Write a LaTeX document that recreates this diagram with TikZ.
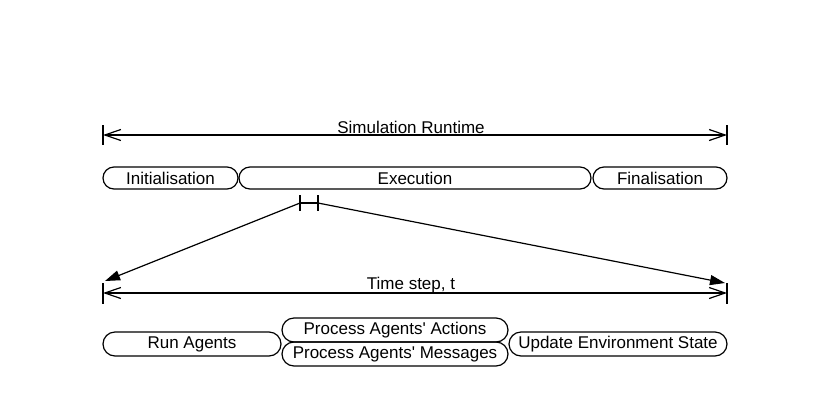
\documentclass[tikz,border=0pt]{standalone}
\usepackage{fontspec}
\setmainfont{Liberation Sans}
\usetikzlibrary{arrows.meta}
\begin{document}
\begin{tikzpicture}[x=1pt,y=-1pt,
  phase/.style={draw, line width=1.2pt, rounded corners=11pt, inner sep=0pt, minimum height=22pt, font=\fontsize{17}{20}\selectfont},
  subphase/.style={phase, minimum height=24pt, rounded corners=12pt},
  label/.style={inner sep=0pt, font=\fontsize{17}{20}\selectfont},
  span/.style={line width=1.2pt, {Straight Barb[length=16pt,width=11pt,line width=1.2pt]}-{Straight Barb[length=16pt,width=11pt,line width=1.2pt]}},
  bar/.style={line width=1.2pt},
  zoomline/.style={line width=1.2pt, -{Triangle[length=15pt,width=10pt]}}
]
\useasboundingbox (0,0) rectangle (832,400);

% top range
\coordinate (t1a) at (103,125); \coordinate (t1b) at (103,145);
\coordinate (t2a) at (727,125); \coordinate (t2b) at (727,145);
\coordinate (tl) at (103,135); \coordinate (tr) at (727,135);
\draw[bar] (t1a) -- (t1b);
\draw[bar] (t2a) -- (t2b);
\draw[span] (tl) -- (tr);
\node[label] (simlabel) at (411,127) {Simulation Runtime};

% phases
\node[phase, minimum width=135pt] (init) at (170.5,178) {Initialisation};
\node[phase, minimum width=352pt] (exec) at (415,178) {Execution};
\node[phase, minimum width=134pt] (final) at (660,178) {Finalisation};

% H bracket
\coordinate (h1a) at (300,195); \coordinate (h1b) at (300,211);
\coordinate (h2a) at (318,195); \coordinate (h2b) at (318,211);
\coordinate (hl) at (300,203); \coordinate (hr) at (318,203);
\draw[bar] (h1a) -- (h1b);
\draw[bar] (h2a) -- (h2b);
\draw[bar] (hl) -- (hr);

% bottom range
\coordinate (b1a) at (103,283); \coordinate (b1b) at (103,304);
\coordinate (b2a) at (727,283); \coordinate (b2b) at (727,304);
\coordinate (bl) at (103,293); \coordinate (br) at (727,293);
\draw[bar] (b1a) -- (b1b);
\draw[bar] (b2a) -- (b2b);
\draw[span] (bl) -- (br);
\node[label] (steplabel) at (411,285) {Time step, t};

% zoom lines
\coordinate (zl) at (105,281);
\coordinate (zr) at (725,283);
\draw[zoomline] (hl) -- (zl);
\draw[zoomline] (hr) -- (zr);

% sub phases
\node[subphase, minimum width=178pt] (run) at (192,344) {Run Agents};
\node[subphase, minimum width=226pt] (act) at (395,330) {Process Agents\textquotesingle{} Actions};
\node[subphase, minimum width=226pt] (msg) at (395,354) {Process Agents\textquotesingle{} Messages};
\node[subphase, minimum width=218pt] (upd) at (618,344) {Update Environment State};
\end{tikzpicture}
\end{document}
